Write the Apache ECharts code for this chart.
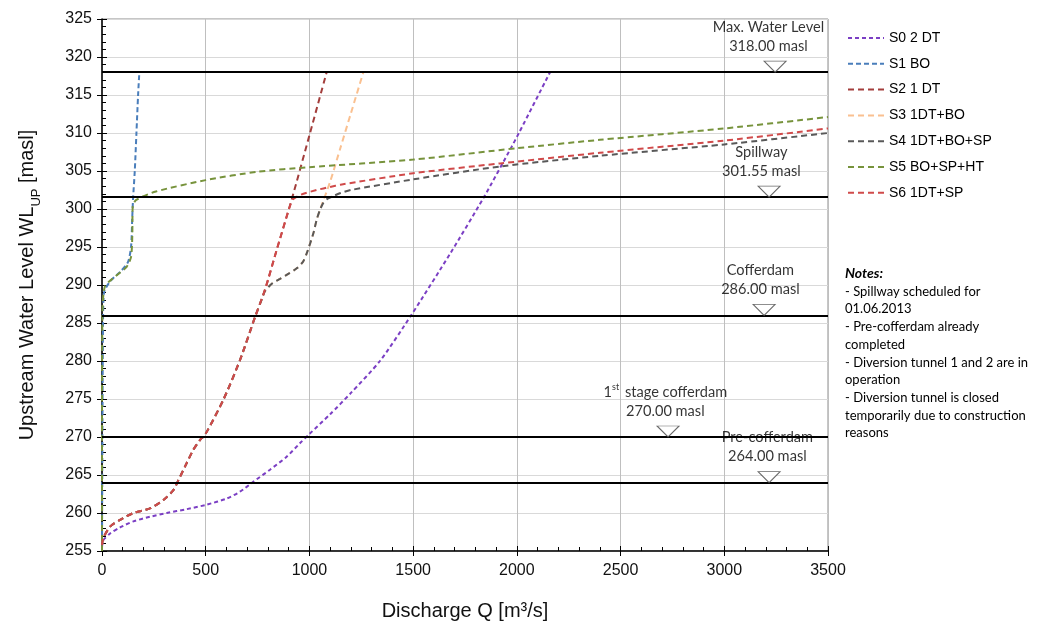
<!DOCTYPE html>
<html>
<head>
<meta charset="utf-8">
<script src="https://cdn.jsdelivr.net/npm/echarts@6/dist/echarts.min.js"></script>
<style>
html,body{margin:0;padding:0;background:#fff;}
#chart{width:1044px;height:628px;}
</style>
</head>
<body>
<div id="chart"></div>
<script>
// ---- Data ----
const xTicks = [0, 500, 1000, 1500, 2000, 2500, 3000, 3500];
const yTicks = [255, 260, 265, 270, 275, 280, 285, 290, 295, 300, 305, 310, 315, 320, 325];

const seriesNames = ['S0 2 DT', 'S1 BO', 'S2 1 DT', 'S3 1DT+BO', 'S4 1DT+BO+SP', 'S5 BO+SP+HT', 'S6 1DT+SP'];

// [Q m3/s, WL masl]
const s0 = [[0,255.5],[6,256.4],[39,257.3],[87,258.1],[151,258.9],[231,259.5],[312,260],[408,260.5],[505,261.1],[601,261.9],[665,262.8],[729,264.1],[810,265.7],[890,267.4],[955,269.2],[1000,270.4],[1100,273],[1200,275.8],[1340,280],[1490,286],[1680,294.2],[1840,301.5],[1975,308.2],[2010,310],[2160,318]];
const s1 = [[0,255],[2,270],[5,285],[10,289],[40,290.5],[90,291.8],[125,293],[140,295],[146,299],[150,301.5],[158,305],[166,310],[174,315],[180,318]];
// lower branch shared by all one-tunnel scenarios
const oneDTLow = [[0,255.8],[6,256.7],[39,258.2],[87,259.1],[151,260],[231,260.6],[296,261.7],[344,263],[368,264.3],[400,266.1],[440,268.3],[472,269.6],[497,270.3],[585,274.9],[665,280.1],[738,285.8]];
const s2Upper = [[786,289.4],[842,294.6],[914,301.2],[1003,310],[1083,318]];
const s3Upper = [[770,288.1],[786,289.2],[820,290.2],[858,290.8],[900,291.5],[939,292.2],[970,293.1],[990,294.4],[1019,296.8],[1035,298.6],[1051,299.9],[1100,303.6],[1150,308.1],[1200,312.6],[1260,318]];
const s4Upper = [[770,288.1],[786,289.2],[820,290.2],[858,290.8],[900,291.5],[939,292.2],[970,293.1],[990,294.4],[1019,296.8],[1035,298.6],[1051,299.9],[1067,300.8],[1090,301.4],[1115,301.7],[1150,302.1],[1200,302.5],[1500,303.9],[1920,305.6],[2400,307],[3000,308.5],[3500,310]];
const s5 = [[0,255],[0,270],[2,286],[14,289.8],[63,291.1],[119,292.4],[140,293.7],[146,296.5],[148,300.3],[165,301.2],[260,302.3],[500,303.8],[750,304.9],[1000,305.5],[1500,306.5],[2000,308],[2400,309.1],[3000,310.6],[3500,312.1]];
const s6Upper = [[786,289.4],[842,294.6],[905,300.3],[922,301.3],[960,301.9],[1035,302.5],[1100,302.9],[1150,303.2],[1500,304.7],[1920,306],[2400,307.4],[3000,309],[3500,310.6]];

// reference levels
const levelNames = ['Max. Water Level', 'Spillway', 'Cofferdam', '1st stage cofferdam', 'Pre-cofferdam'];
const levelValues = [318.00, 301.55, 286.00, 270.00, 264.00];
const levelMarkerQ = [3245, 3216, 3192, 2729, 3216];

const notesTitle = 'Notes:';
const notesLines = ['- Spillway scheduled for', '01.06.2013', '- Pre-cofferdam already', 'completed', '- Diversion tunnel 1 and 2 are in', 'operation', '- Diversion tunnel is closed', 'temporarily due to construction', 'reasons'];

// ---- Chart ----
const colors = ['#7B3FC4', '#4A7EBB', '#A33D3B', '#FAC090', '#595959', '#77933C', '#D04A4A'];
const seriesData = [
  s0,
  s1,
  oneDTLow.concat(s2Upper),
  oneDTLow.concat(s3Upper),
  oneDTLow.concat(s4Upper),
  s5,
  oneDTLow.concat(s6Upper)
];
const dashes = [[4,3],[5,3],[6,4],[6,4],[6,4],[6,4],[6,4]];

const FONT = 'Liberation Sans, Arial, sans-serif';
const chart = echarts.init(document.getElementById('chart'), null, {renderer: 'canvas'});

const lineSeries = seriesNames.map((n, i) => ({
  name: n,
  type: 'line',
  data: seriesData[i],
  showSymbol: false,
  symbol: 'none',
  smooth: 0.25,
  lineStyle: {color: colors[i], width: 2, type: dashes[i]},
  itemStyle: {color: colors[i]},
  z: 3 + i * 0.01,
  silent: true
}));

const labelDx = [-6, -7, -3, -2, -1];

const markerSeries = {
  name: 'levels',
  type: 'scatter',
  silent: true,
  z: 5,
  symbol: 'path://M0 0L2 0L1 1Z',
  symbolSize: [22, 11],
  symbolOffset: [0, -5.5],
  itemStyle: {color: '#fff', borderColor: '#444', borderWidth: 1},
  data: levelNames.map((n, i) => ({
    value: [levelMarkerQ[i], levelValues[i]],
    name: n,
    label: {position: [11 + labelDx[i], -5]}
  })),
  label: {
    show: true,
    align: 'center',
    verticalAlign: 'bottom',
    fontFamily: 'Lato, sans-serif',
    fontSize: 14.6,
    lineHeight: 19,
    color: '#000',
    formatter: p => {
      const nm = p.name.replace(/^1st/, '1{sup|st}');
      return nm + '\n' + p.value[1].toFixed(2) + ' masl';
    },
    rich: {
      sup: {fontSize: 9, verticalAlign: 'top', lineHeight: 19, fontFamily: 'Lato, sans-serif', color: '#000', padding: [0, 2, 6, 0]}
    }
  },
  markLine: {
    silent: true,
    symbol: 'none',
    label: {show: false},
    lineStyle: {color: '#000', width: 2, type: 'solid'},
    data: levelValues.map(v => ({yAxis: v}))
  }
};

const option = {
  backgroundColor: '#fff',
  animation: false,
  textStyle: {fontFamily: FONT},
  grid: {left: 102, top: 19, right: 216, bottom: 77, show: true, borderColor: '#8c8c8c', borderWidth: 1, containLabel: false},
  legend: {
    data: seriesNames,
    orient: 'vertical',
    left: 842,
    top: 26,
    itemWidth: 36,
    itemHeight: 14,
    itemGap: 11.8,
    itemStyle: {opacity: 0},
    textStyle: {fontSize: 14, color: '#000', fontFamily: FONT},
    selectedMode: false
  },
  xAxis: [{
    type: 'value',
    min: 0, max: 3500, interval: 500,
    name: 'Discharge Q [m³/s]',
    nameLocation: 'middle',
    nameGap: 50,
    nameTextStyle: {fontSize: 20, color: '#111', fontFamily: FONT},
    axisLine: {show: true, lineStyle: {color: '#000', width: 1.5}},
    axisTick: {show: true, inside: false, length: 5, lineStyle: {color: '#000'}},
    axisLabel: {fontSize: 16, color: '#111', margin: 12, fontFamily: FONT, formatter: v => xTicks.includes(v) ? String(v) : ''},
    splitLine: {show: true, lineStyle: {color: '#BFBFBF', width: 1}}
  }, {
    type: 'value', position: 'bottom',
    min: 0, max: 3500, interval: 500,
    axisLine: {show: false},
    axisLabel: {show: false},
    axisTick: {show: true, inside: true, length: 5, lineStyle: {color: '#000'}},
    minorTick: {show: true, splitNumber: 5, length: 4, lineStyle: {color: '#000'}},
    splitLine: {show: false}
  }],
  yAxis: [{
    type: 'value',
    min: 255, max: 325, interval: 5,
    name: '{a|Upstream Water Level WL}{s|UP}{a| [masl]}',
    nameLocation: 'middle',
    nameGap: 62,
    nameTextStyle: {
      fontSize: 20, color: '#111', fontFamily: FONT,
      rich: {
        a: {fontSize: 20, color: '#111', fontFamily: FONT, lineHeight: 26},
        s: {fontSize: 13, color: '#111', fontFamily: FONT, lineHeight: 26, verticalAlign: 'bottom', padding: [0, 0, -3, 0]}
      }
    },
    axisLine: {show: true, lineStyle: {color: '#000', width: 1.5}},
    axisTick: {show: true, inside: false, length: 5, lineStyle: {color: '#000'}},
    axisLabel: {fontSize: 16, color: '#111', margin: 10, fontFamily: FONT, formatter: v => yTicks.includes(v) ? String(v) : ''},
    splitLine: {show: true, lineStyle: {color: '#D9D9D9', width: 1}}
  }, {
    type: 'value', position: 'left',
    min: 255, max: 325, interval: 5,
    axisLine: {show: false},
    axisLabel: {show: false},
    axisTick: {show: true, inside: true, length: 5, lineStyle: {color: '#000'}},
    minorTick: {show: true, splitNumber: 5, length: 4, lineStyle: {color: '#000'}},
    splitLine: {show: false}
  }],
  graphic: [{
    type: 'text',
    left: 845,
    top: 265,
    silent: true,
    style: {
      text: '{b|' + notesTitle + '}\n' + notesLines.join('\n'),
      font: '13px Lato, sans-serif',
      fill: '#000',
      lineHeight: 17.7,
      rich: {
        b: {fontWeight: 'bold', fontStyle: 'italic', fontSize: 14, fontFamily: 'Lato, sans-serif', lineHeight: 17.7, fill: '#000'}
      }
    }
  }],
  series: lineSeries.concat([markerSeries])
};

chart.setOption(option);
</script>
</body>
</html>
